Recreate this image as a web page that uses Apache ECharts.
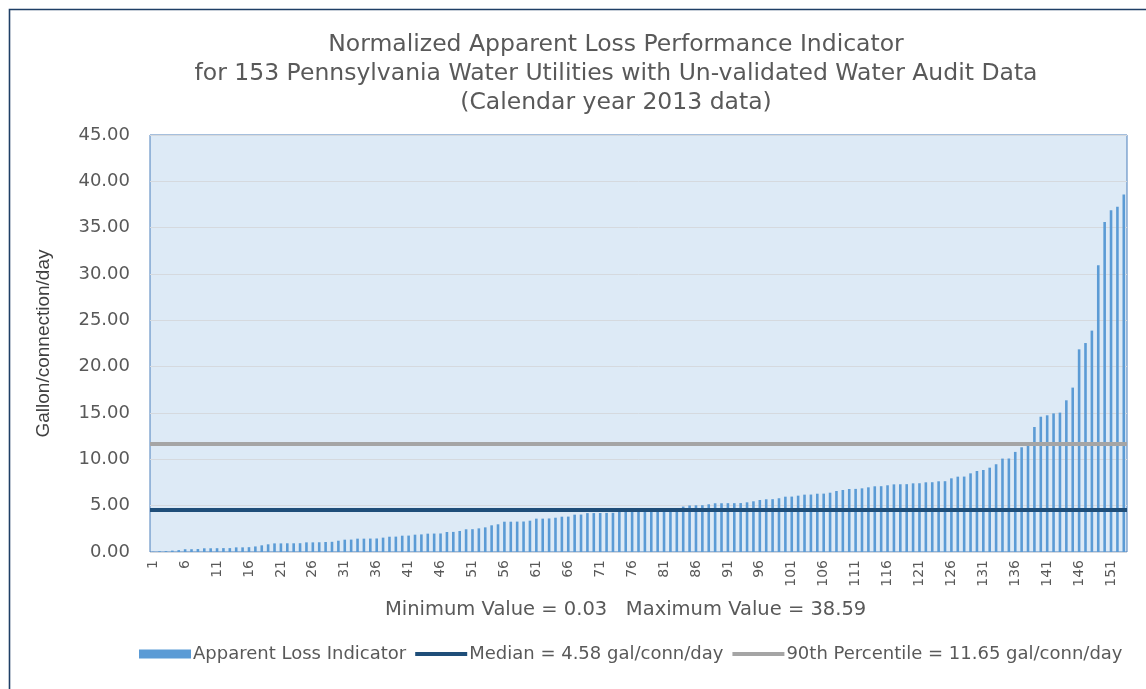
<!DOCTYPE html>
<html>
<head>
<meta charset="utf-8">
<script src="https://cdn.jsdelivr.net/npm/echarts@6/dist/echarts.min.js"></script>
<style>
html,body{margin:0;padding:0;background:#fff;}
#chart{width:1146px;height:689px;}
</style>
</head>
<body>
<div id="chart"></div>
<script>
// ---- data ----
const categories = Array.from({length: 153}, (_, i) => String(i + 1));
const apparentLoss = [
  0.03, 0.08, 0.10, 0.15, 0.20, 0.30, 0.30, 0.32, 0.40, 0.40,
  0.41, 0.42, 0.42, 0.50, 0.50, 0.52, 0.60, 0.72, 0.83, 0.93,
  0.93, 0.94, 0.94, 0.95, 1.04, 1.04, 1.05, 1.08, 1.10, 1.22,
  1.33, 1.34, 1.44, 1.44, 1.45, 1.46, 1.55, 1.65, 1.66, 1.76,
  1.77, 1.87, 1.90, 1.98, 1.99, 2.00, 2.16, 2.17, 2.27, 2.45,
  2.46, 2.55, 2.66, 2.88, 2.99, 3.27, 3.27, 3.28, 3.29, 3.38,
  3.60, 3.60, 3.62, 3.70, 3.81, 3.82, 4.03, 4.04, 4.20, 4.20,
  4.21, 4.22, 4.23, 4.40, 4.45, 4.50, 4.58, 4.60, 4.61, 4.62,
  4.65, 4.66, 4.70, 4.90, 5.02, 5.04, 5.05, 5.15, 5.26, 5.26,
  5.27, 5.27, 5.28, 5.36, 5.47, 5.61, 5.69, 5.70, 5.80, 5.97,
  5.98, 6.08, 6.19, 6.20, 6.29, 6.30, 6.40, 6.58, 6.69, 6.80,
  6.81, 6.87, 6.98, 7.09, 7.10, 7.20, 7.30, 7.31, 7.32, 7.41,
  7.42, 7.52, 7.53, 7.63, 7.64, 7.95, 8.13, 8.14, 8.49, 8.74,
  8.85, 9.10, 9.47, 10.08, 10.09, 10.80, 11.30, 11.50, 13.49, 14.60,
  14.75, 14.96, 15.04, 16.37, 17.74, 21.87, 22.55, 23.89, 30.94, 35.61,
  36.87, 37.26, 38.59
];
const medianValue = 4.58;
const p90Value = 11.65;
const minValue = 0.03;
const maxValue = 38.59;
const titleLines = [
  'Normalized Apparent Loss Performance Indicator',
  'for 153 Pennsylvania Water Utilities with Un-validated Water Audit Data',
  '(Calendar year 2013 data)'
];
const seriesNames = [
  'Apparent Loss Indicator',
  'Median = ' + medianValue.toFixed(2) + ' gal/conn/day',
  '90th Percentile = ' + p90Value.toFixed(2) + ' gal/conn/day'
];

const FONT = '"DejaVu Sans", "Noto Sans", sans-serif';
const TXT = '#595959';
const hiddenSymbol = {color: 'rgba(0,0,0,0)', borderWidth: 0, opacity: 0};

const chart = echarts.init(document.getElementById('chart'), null, {renderer: 'canvas'});
chart.setOption({
  animation: false,
  backgroundColor: '#ffffff',
  textStyle: {fontFamily: FONT},
  title: {
    text: titleLines.join('\n'),
    left: 611, top: 25, textAlign: 'center',
    textStyle: {fontFamily: FONT, fontSize: 23.5, fontWeight: 'normal', color: TXT, lineHeight: 29}
  },
  graphic: [
    {type: 'rect', left: 7, top: 7, shape: {width: 1160, height: 700}, silent: true,
     style: {fill: 'none', stroke: '#1F3F66', lineWidth: 1.6}},
    {type: 'text', left: 385, top: 600,
     style: {text: 'Minimum Value = ' + minValue.toFixed(2) + '   Maximum Value = ' + maxValue.toFixed(2),
             font: '19.5px ' + FONT, fill: TXT}}
  ],
  legend: {
    left: 134, top: 640,
    itemWidth: 52, itemHeight: 9, itemGap: 7,
    textStyle: {fontFamily: FONT, fontSize: 18, color: TXT, padding: [0, 0, 0, -3]},
    data: [
      {name: seriesNames[0], icon: 'rect'},
      {name: seriesNames[1], itemStyle: hiddenSymbol, lineStyle: {width: 4, color: '#1F4E79'}},
      {name: seriesNames[2], itemStyle: hiddenSymbol, lineStyle: {width: 4, color: '#A5A5A5'}}
    ]
  },
  grid: {
    left: 150, right: 19, top: 135, bottom: 137,
    show: true, backgroundColor: '#DDEAF6', borderColor: '#4A7EBB', borderWidth: 1
  },
  xAxis: {
    type: 'category', data: categories,
    axisLine: {show: false}, axisTick: {show: false},
    axisLabel: {interval: 4, rotate: 90, fontSize: 14, color: TXT, fontFamily: FONT, margin: 8}
  },
  yAxis: {
    type: 'value', min: 0, max: 45, interval: 5,
    name: 'Gallon/connection/day', nameLocation: 'middle', nameGap: 97, nameRotate: 90,
    nameTextStyle: {fontFamily: '"Liberation Sans Narrow", "Liberation Sans", sans-serif', fontSize: 19, color: '#404040'},
    axisLine: {show: false}, axisTick: {show: false},
    axisLabel: {formatter: v => v.toFixed(2), fontSize: 18, color: TXT, fontFamily: FONT, margin: 20},
    splitLine: {lineStyle: {color: '#D5D9DE', width: 1}}
  },
  series: [
    {
      name: seriesNames[0], type: 'bar', data: apparentLoss,
      barWidth: 2.6,
      itemStyle: {color: '#5B9BD5'},
      z: 2
    },
    {
      name: seriesNames[1], type: 'line', data: [], symbol: 'none',
      lineStyle: {color: '#1F4E79', width: 4}, itemStyle: {color: '#1F4E79'},
      markLine: {silent: true, symbol: ['none', 'none'], label: {show: false},
        lineStyle: {color: '#1F4E79', width: 4, type: 'solid'},
        data: [{yAxis: medianValue}]},
      z: 4
    },
    {
      name: seriesNames[2], type: 'line', data: [], symbol: 'none',
      lineStyle: {color: '#A5A5A5', width: 4}, itemStyle: {color: '#A5A5A5'},
      markLine: {silent: true, symbol: ['none', 'none'], label: {show: false},
        lineStyle: {color: '#A5A5A5', width: 4, type: 'solid'},
        data: [{yAxis: p90Value}]},
      z: 3
    }
  ]
});
</script>
</body>
</html>
